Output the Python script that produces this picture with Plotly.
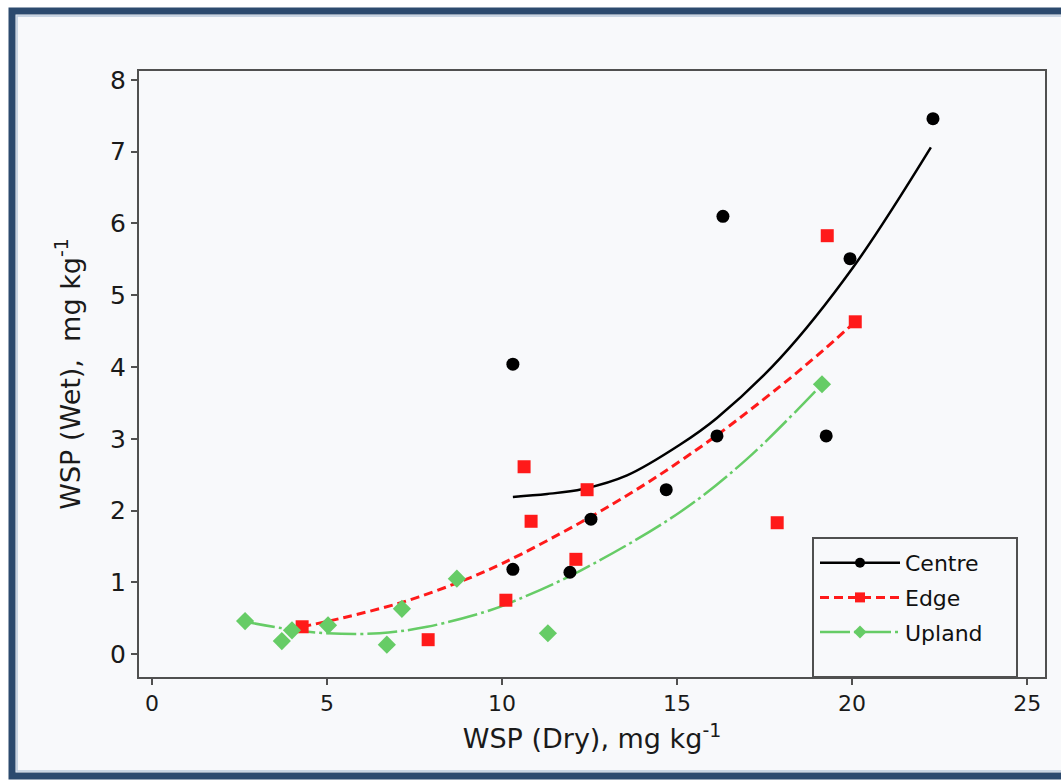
import plotly.graph_objects as go

# Measured points: WSP under dry vs wet conditions (mg/kg)
centre_dry = [22.31, 16.31, 19.94, 10.31, 16.14, 19.26, 14.69, 12.54, 10.31, 11.94]
centre_wet = [7.46, 6.10, 5.51, 4.04, 3.04, 3.04, 2.29, 1.88, 1.18, 1.14]

edge_dry = [19.29, 20.09, 10.63, 12.43, 10.83, 12.11, 10.11, 17.86, 4.29, 7.89]
edge_wet = [5.83, 4.63, 2.61, 2.29, 1.85, 1.32, 0.75, 1.83, 0.38, 0.20]

upland_dry = [2.66, 3.71, 4.00, 5.03, 6.71, 7.14, 8.71, 11.31, 19.14]
upland_wet = [0.46, 0.18, 0.33, 0.40, 0.13, 0.63, 1.05, 0.29, 3.76]

# Fitted trend curves
centre_fit_x = [10.31, 11.29, 12.31, 13.57, 15.09, 16.14, 17.94, 20.03, 22.25]
centre_fit_y = [2.19, 2.23, 2.30, 2.49, 2.92, 3.29, 4.12, 5.39, 7.06]

edge_fit_x = [4.29, 5.50, 7.14, 8.71, 10.00, 12.23, 14.00, 15.09, 16.14, 17.94, 19.00, 20.09]
edge_fit_y = [0.38, 0.51, 0.72, 0.99, 1.26, 1.83, 2.34, 2.69, 3.05, 3.73, 4.16, 4.63]

upland_fit_x = [2.66, 4.00, 5.00, 6.50, 7.86, 9.66, 10.31, 12.23, 15.09, 17.00, 19.14]
upland_fit_y = [0.45, 0.34, 0.29, 0.29, 0.38, 0.61, 0.73, 1.16, 1.98, 2.72, 3.76]

series_names = ["Centre", "Edge", "Upland"]
colors = {"Centre": "#000000", "Edge": "#FF1A1A", "Upland": "#66CC66"}
symbols = {"Centre": "circle", "Edge": "square", "Upland": "diamond"}
msizes = {"Centre": 13, "Edge": 13, "Upland": 14}
dashes = {"Centre": "solid", "Edge": "9px,5px", "Upland": "30px,4px,3px,4px"}
lwidths = {"Centre": 2.5, "Edge": 3, "Upland": 2.5}

points = {
    "Centre": (centre_dry, centre_wet),
    "Edge": (edge_dry, edge_wet),
    "Upland": (upland_dry, upland_wet),
}
fits = {
    "Centre": (centre_fit_x, centre_fit_y),
    "Edge": (edge_fit_x, edge_fit_y),
    "Upland": (upland_fit_x, upland_fit_y),
}

BG = "#F8F9FB"
AXIS = "#505050"
TEXT = "#1A1A1A"
FONT = "DejaVu Sans, Verdana, sans-serif"

fig = go.Figure()

for name in series_names:
    fx, fy = fits[name]
    fig.add_trace(go.Scatter(
        x=fx, y=fy, mode="lines", line_shape="spline",
        line=dict(color=colors[name], width=lwidths[name], dash=dashes[name]),
        showlegend=False, hoverinfo="skip",
    ))

for name in series_names:
    px_, py_ = points[name]
    fig.add_trace(go.Scatter(
        x=px_, y=py_, mode="markers",
        marker=dict(symbol=symbols[name], size=msizes[name], color=colors[name],
                    line=dict(width=0)),
        name=name, showlegend=False,
    ))

# Legend entries (line + marker sample)
for name in series_names:
    fig.add_trace(go.Scatter(
        x=[None], y=[None], mode="lines+markers", name=name,
        legendgroup=name,
        line=dict(color=colors[name], width=lwidths[name], dash=dashes[name]),
        marker=dict(symbol=symbols[name], size=10, color=colors[name]),
    ))

# Pixel -> paper helpers for frame decorations
L, R, T, B = 139, 1045, 71, 677
def xp(px):
    return (px - L) / (R - L)
def yp(py):
    return (B - py) / (B - T)

shapes = [
    # outer panel
    dict(type="rect", xref="paper", yref="paper",
         x0=xp(12), x1=xp(1080), y0=yp(11), y1=yp(776),
         line=dict(color="#2C4A6E", width=7), fillcolor=BG, layer="below"),
    dict(type="rect", xref="paper", yref="paper",
         x0=xp(17), x1=xp(1080), y0=yp(16), y1=yp(771),
         line=dict(color="#B9C9DC", width=1.5), fillcolor="rgba(0,0,0,0)", layer="below"),
    # legend box
    dict(type="rect", xref="paper", yref="paper",
         x0=xp(813), x1=xp(1017), y0=yp(538), y1=yp(677),
         line=dict(color=AXIS, width=2), fillcolor=BG, layer="above"),
]

fig.update_layout(
    width=1061, height=782,
    margin=dict(l=L, r=1061 - R, t=T, b=782 - B),
    paper_bgcolor="#FFFFFF",
    plot_bgcolor=BG,
    font=dict(family=FONT, color=TEXT),
    shapes=shapes,
    showlegend=True,
    legend=dict(
        x=xp(815), y=yp(542), xanchor="left", yanchor="top",
        bgcolor="rgba(0,0,0,0)", borderwidth=0,
        font=dict(family=FONT, size=22, color="#111111"),
        itemwidth=80, traceorder="grouped", tracegroupgap=3,
        itemclick=False, itemdoubleclick=False,
    ),
    xaxis=dict(
        range=[-0.37, 25.51], tickvals=[0, 5, 10, 15, 20, 25],
        showline=True, linecolor=AXIS, linewidth=2, mirror=True,
        ticks="outside", ticklen=6, tickwidth=1.5, tickcolor=AXIS,
        showgrid=False, zeroline=False,
        tickfont=dict(family=FONT, size=22, color=TEXT),
        title=dict(text="WSP (Dry), mg kg<sup>-1</sup>",
                   font=dict(family=FONT, size=27, color=TEXT), standoff=14),
    ),
    yaxis=dict(
        range=[-0.32, 8.125], tickvals=[0, 1, 2, 3, 4, 5, 6, 7, 8],
        showline=True, linecolor=AXIS, linewidth=2, mirror=True,
        ticks="outside", ticklen=6, tickwidth=1.5, tickcolor=AXIS,
        showgrid=False, zeroline=False,
        tickfont=dict(family=FONT, size=25, color=TEXT),
        title=dict(text="WSP (Wet),  mg kg<sup>-1</sup>",
                   font=dict(family=FONT, size=27, color=TEXT), standoff=22),
    ),
)

fig.write_html("out.html")
